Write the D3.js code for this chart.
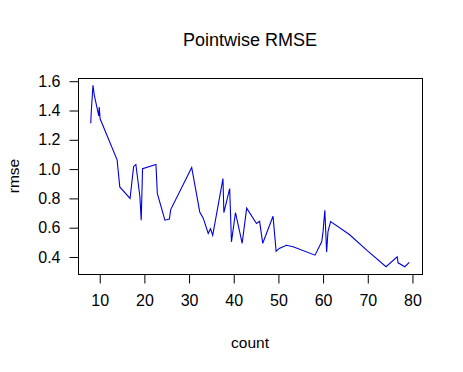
<!DOCTYPE html>
<html>
<head>
<meta charset="utf-8">
<script src="https://cdn.jsdelivr.net/npm/d3@7"></script>
<style>
  html, body { margin: 0; padding: 0; background: #fff; }
  svg { display: block; font-family: Arial, "Liberation Sans", sans-serif; }
</style>
</head>
<body>
<script>
const title = "Pointwise RMSE";
const xLabel = "count";
const yLabel = "rmse";
const counts = [8.1, 8.2, 8.6, 8.9, 9.9, 10.0, 10.2, 14.0, 14.6, 16.9, 17.7, 18.2, 19.1, 19.4, 19.7,
  22.7, 23.0, 24.7, 25.7, 26.0, 30.7, 32.5, 33.3, 34.4, 34.9, 35.4, 37.7, 37.9, 39.2, 39.6,
  40.5, 42.0, 43.0, 45.2, 45.9, 46.6, 48.9, 49.6, 50.3, 51.9, 53.4, 58.3, 59.8, 60.1, 60.5,
  60.9, 61.2, 61.8, 66.0, 70.0, 74.2, 76.7, 76.9, 78.4, 79.4];
const rmse = [1.31, 1.38, 1.569, 1.50, 1.36, 1.42, 1.34, 1.06, 0.875, 0.796, 1.015, 1.028, 0.81, 0.648, 1.00,
  1.028, 0.83, 0.648, 0.655, 0.72, 1.008, 0.704, 0.66, 0.557, 0.59, 0.545, 0.932, 0.70, 0.864, 0.50,
  0.70, 0.49, 0.73, 0.625, 0.64, 0.49, 0.675, 0.435, 0.455, 0.477, 0.466, 0.409, 0.50, 0.568, 0.716,
  0.43, 0.568, 0.638, 0.55, 0.44, 0.33, 0.398, 0.357, 0.33, 0.36];
const xTicks = [10, 20, 30, 40, 50, 60, 70, 80];
const yTicks = [0.4, 0.6, 0.8, 1.0, 1.2, 1.4, 1.6];

const W = 463, H = 372;
const box = {left: 78, right: 422, top: 78, bottom: 274};

function padExt(arr) {
  const [a, b] = d3.extent(arr);
  const p = (b - a) * 0.04;
  return [a - p, b + p];
}

const x = d3.scaleLinear().domain(padExt(counts)).range([box.left, box.right]);
const y = d3.scaleLinear().domain(padExt(rmse)).range([box.bottom, box.top]);

const svg = d3.select("body").append("svg").attr("width", W).attr("height", H);
svg.append("rect").attr("width", W).attr("height", H).attr("fill", "#fff");

const data = counts.map((c, i) => [c, rmse[i]]);
svg.append("path")
  .datum(data)
  .attr("fill", "none")
  .attr("stroke", "#0000dd")
  .attr("stroke-width", 1.1)
  .attr("stroke-linejoin", "miter")
  .attr("d", d3.line().x(d => x(d[0])).y(d => y(d[1])));

// box
svg.append("rect")
  .attr("x", box.left + 0.5).attr("y", box.top + 0.5)
  .attr("width", box.right - box.left).attr("height", box.bottom - box.top)
  .attr("fill", "none").attr("stroke", "#000").attr("stroke-width", 1);

// axes
const xAxis = d3.axisBottom(x).tickValues(xTicks).tickSize(9).tickPadding(11).tickFormat(d3.format("d"));
const gx = svg.append("g").attr("transform", `translate(0.5,${box.bottom + 0.5})`).call(xAxis);
gx.select(".domain").attr("d", `M${x(xTicks[0])},0H${x(xTicks[xTicks.length - 1])}`);
gx.selectAll("text").attr("font-size", 16).attr("fill", "#000").attr("font-family", "Arial, 'Liberation Sans', sans-serif");

const yAxis = d3.axisLeft(y).tickValues(yTicks).tickSize(9).tickPadding(9).tickFormat(d3.format(".1f"));
const gy = svg.append("g").attr("transform", `translate(${box.left + 0.5},0.5)`).call(yAxis);
gy.select(".domain").attr("d", `M0,${y(yTicks[0])}V${y(yTicks[yTicks.length - 1])}`);
gy.selectAll("text").attr("font-size", 16).attr("fill", "#000").attr("font-family", "Arial, 'Liberation Sans', sans-serif");

// title & labels
svg.append("text").attr("x", (box.left + box.right) / 2).attr("y", 46)
  .attr("text-anchor", "middle").attr("font-size", 18).text(title);
svg.append("text").attr("x", (box.left + box.right) / 2).attr("y", 348)
  .attr("text-anchor", "middle").attr("font-size", 15.5).text(xLabel);
svg.append("text").attr("transform", `translate(19,${(box.top + box.bottom) / 2}) rotate(-90)`)
  .attr("text-anchor", "middle").attr("font-size", 15.5).text(yLabel);
</script>
</body>
</html>
